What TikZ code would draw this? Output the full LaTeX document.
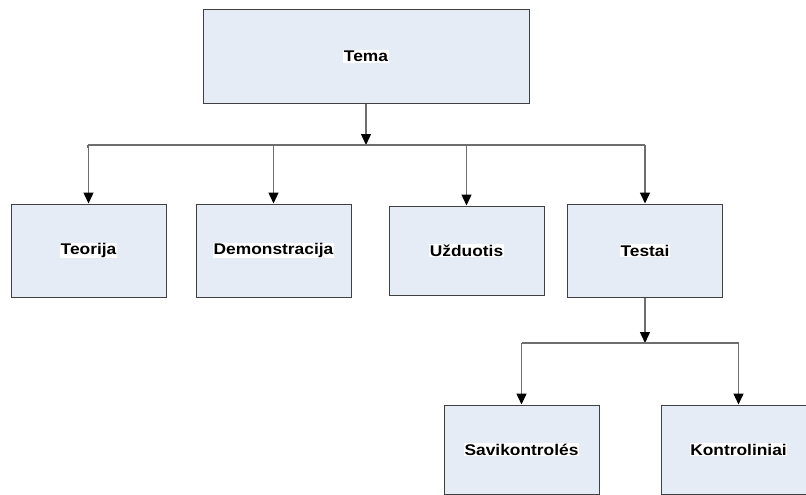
\documentclass[tikz,border=0pt]{standalone}
\usepackage{fontspec}
\setmainfont{Liberation Sans}[FakeStretch=1.12]
\usetikzlibrary{arrows.meta}
\definecolor{boxfill}{RGB}{230,236,246}
\definecolor{boxline}{RGB}{64,64,64}
\definecolor{wire}{RGB}{110,110,110}
\newcommand\boxtext[1]{{\setlength\fboxsep{0.6pt}\colorbox{white}{#1}}}
\begin{document}
\begin{tikzpicture}[x=1pt,y=-1pt,
  topic/.style={draw=boxline,line width=1pt,fill=boxfill,rectangle,
    minimum width=155pt,minimum height=93pt,inner sep=0pt,
    font=\fontsize{15.5}{18}\selectfont\bfseries},
  wireline/.style={draw=wire,line width=1.4pt},
  feed/.style={wireline,-{Triangle[length=11pt,width=10pt,color=black]}}]
  \useasboundingbox (0,0) rectangle (806,495);
  \clip (0,0) rectangle (806,495);

  % boxes
  \node[topic,minimum width=326pt] (tema) at (366,56.5) {\boxtext{Tema}};
  \node[topic] (teorija) at (88.5,250.5) {\boxtext{Teorija}};
  \node[topic] (demo) at (273.5,250.5) {\boxtext{Demonstracija}};
  \node[topic,minimum height=89pt] (uzd) at (466.5,250.5) {\boxtext{Užduotis}};
  \node[topic] (testai) at (645,250.5) {\boxtext{Testai}};
  \node[topic,minimum height=89pt] (savi) at (521.5,449.5) {\boxtext{Savikontrolés}};
  \node[topic,minimum height=89pt] (kontr) at (738.5,449.5) {\boxtext{Kontroliniai}};

  % first level distribution bus
  \coordinate (busA) at (366,145);
  \coordinate (busL) at (88,145);
  \coordinate (busR) at (645,145);
  \draw[feed] (tema.south) -- (busA);
  \draw[wireline] (busL) -- (busR);
  \draw[wireline] ([yshift=-2.5pt]busL) -- (busL);
  \draw[feed] (teorija.north |- busL) -- (teorija.north);
  \draw[feed] (demo.north |- busL) -- (demo.north);
  \draw[feed] (uzd.north |- busL) -- (uzd.north);
  \draw[feed] (testai.north |- busL) -- (testai.north);

  % second level distribution bus
  \coordinate (busB) at (645,343);
  \draw[feed] (testai.south) -- (busB);
  \draw[wireline] (savi.north |- busB) -- (kontr.north |- busB);
  \draw[feed] (savi.north |- busB) -- (savi.north);
  \draw[feed] (kontr.north |- busB) -- (kontr.north);
\end{tikzpicture}
\end{document}
